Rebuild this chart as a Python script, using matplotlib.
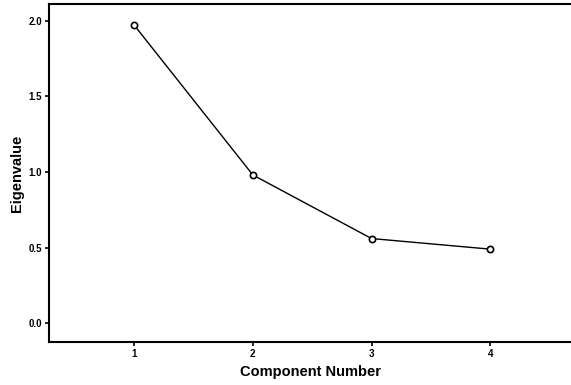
"""Scree plot: eigenvalue per component number."""

import matplotlib

matplotlib.use("Agg")
import matplotlib.pyplot as plt  # noqa: E402

plt.rcParams["font.family"] = ["Liberation Sans", "DejaVu Sans"]

components = [1, 2, 3, 4]
eigenvalues = [1.97, 0.98, 0.56, 0.49]
y_ticks = [0.0, 0.5, 1.0, 1.5, 2.0]

fig = plt.figure(figsize=(5.71, 3.85), dpi=100)
ax = fig.add_axes([0.086, 0.111, 0.914, 0.879])

ax.plot(components, eigenvalues, color="black", linewidth=1.0,
        marker="o", markersize=4.5, markerfacecolor="white",
        markeredgecolor="black", markeredgewidth=1.2)

ax.set_xlim(0.284, 4.68)
ax.set_ylim(-0.125, 2.11)
ax.set_xticks(components)
ax.set_yticks(y_ticks, labels=[f"{v:.1f}" for v in y_ticks])
ax.tick_params(labelsize=7, length=3, width=1.2, pad=2)
for lbl in ax.get_xticklabels() + ax.get_yticklabels():
    lbl.set_fontweight("bold")

for side in ("left", "top", "bottom"):
    ax.spines[side].set_linewidth(1.5)
ax.spines["right"].set_visible(False)

ax.set_xlabel("Component Number", fontsize=10.5, fontweight="bold", labelpad=4)
ax.set_ylabel("Eigenvalue", fontsize=10.5, fontweight="bold", labelpad=3)

fig.savefig("out.png", dpi=100)
